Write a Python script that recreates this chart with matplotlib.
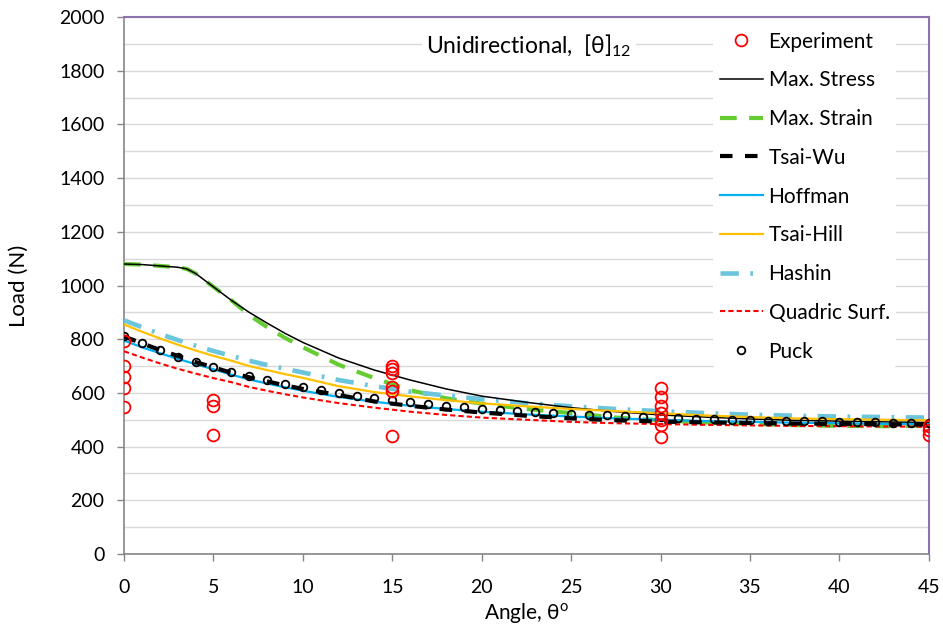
import numpy as np
import matplotlib.pyplot as plt

plt.rcParams['font.family'] = ['Lato', 'DejaVu Sans']
plt.rcParams['mathtext.fontset'] = 'custom'
plt.rcParams['mathtext.rm'] = 'Lato'

# experiment points
exp_angle = [0, 0, 0, 0, 0,
             5, 5, 5,
             15, 15, 15, 15, 15, 15,
             30, 30, 30, 30, 30, 30, 30,
             45, 45, 45]
exp_load = [795, 700, 658, 618, 549,
            575, 552, 445,
            700, 690, 675, 623, 608, 440,
            620, 585, 553, 525, 500, 480, 435,
            478, 460, 443]

# criteria curves
ang = [0, 1, 2, 3, 3.5, 4, 5, 6, 7, 8, 9, 10, 12, 14, 16, 18, 20,
       22.5, 25, 27.5, 30, 32.5, 35, 37.5, 40, 42.5, 45]
max_stress = [1080, 1078, 1073, 1068, 1062, 1045, 995, 945, 900, 860, 822, 788,
              730, 685, 648, 615, 588, 565, 545, 530, 518, 510, 503, 498, 495, 492, 490]
max_strain = [1080, 1078, 1073, 1068, 1062, 1045, 995, 945, 890, 845, 805, 770,
              705, 655, 610, 580, 560, 540, 525, 508, 498, 490, 485, 480, 477, 476, 478]
tsai_wu = [810, 785, 760, 738, 727, 715, 695, 675, 658, 643, 628, 615,
           592, 568, 552, 538, 527, 515, 505, 498, 493, 490, 488, 486, 485, 483, 482]
hoffman = [795, 770, 748, 727, 717, 707, 688, 668, 650, 635, 621, 608,
           585, 567, 552, 540, 530, 520, 512, 505, 500, 495, 492, 489, 487, 485, 484]
tsai_hill = [855, 828, 803, 780, 769, 758, 738, 720, 700, 685, 670, 656,
             625, 603, 587, 573, 561, 550, 540, 532, 524, 516, 510, 505, 502, 500, 498]
hashin = [870, 845, 820, 797, 786, 776, 756, 738, 720, 704, 690, 676,
          648, 625, 605, 590, 577, 562, 550, 540, 532, 525, 519, 515, 512, 510, 508]
quadric = [755, 732, 710, 690, 681, 672, 655, 640, 622, 608, 595, 583,
           562, 545, 530, 518, 508, 500, 492, 487, 484, 481, 479, 477, 476, 475, 474]

# Puck, every degree
puck_angle = list(range(0, 46))
puck = [812, 784, 760, 735, 714, 698, 679, 664, 648, 633, 623, 611, 601, 589,
        580, 574, 567, 559, 551, 546, 541, 536, 534, 530, 526, 521, 519, 518,
        514, 511, 509, 505, 503, 502, 499, 499, 496, 496, 494, 494, 492, 492,
        492, 489, 489, 489]

fig = plt.figure(figsize=(9.43, 6.37), dpi=100)
ax = fig.add_axes([0.1315, 0.1303, 0.8535, 0.843])

ax.plot(exp_angle, exp_load, 'o', ls='none', mfc='none', mec='#ff0000', mew=1.3,
        ms=8.5, label='Experiment', zorder=10)
ax.plot(ang, max_stress, color='black', lw=1.1, label='Max. Stress', zorder=4)
ax.plot(ang, max_strain, color='#66cc33', lw=3, dashes=(4, 3), label='Max. Strain', zorder=3)
ax.plot(ang, tsai_wu, color='black', lw=3, dashes=(3, 3), label='Tsai-Wu', zorder=5)
ax.plot(ang, hoffman, color='#00b0f0', lw=1.6, label='Hoffman', zorder=4)
ax.plot(ang, tsai_hill, color='#ffc000', lw=1.6, label='Tsai-Hill', zorder=4)
ax.plot(ang, hashin, color='#6ac5dd', lw=3.3, dashes=(4, 2.5, 0.6, 2.5), label='Hashin', zorder=3)
ax.plot(ang, quadric, color='#ff0000', lw=1.5, dashes=(2.5, 1.5), label='Quadric Surf.', zorder=4)
ax.plot(puck_angle, puck, 'o', ls='none', mfc='none', mec='black', mew=1.3, ms=5.5,
        label='Puck', zorder=9)

ax.set_xlim(0, 45)
ax.set_ylim(0, 2000)
ax.set_xticks(range(0, 46, 5))
ax.set_yticks(range(0, 2001, 200))
ax.set_yticks(range(0, 2001, 100), minor=True)
ax.tick_params(axis='y', which='minor', length=0)
ax.tick_params(axis='both', which='major', direction='out', length=5, color='#868686',
               labelsize=14, width=1)
ax.tick_params(axis='x', pad=13)
ax.tick_params(axis='y', pad=9)
ax.grid(True, which='both', axis='y', color='#d9d9d9', lw=1)
ax.set_axisbelow(True)

for s in ['left', 'bottom']:
    ax.spines[s].set_color('#868686')
    ax.spines[s].set_linewidth(1.2)
for s in ['top', 'right']:
    ax.spines[s].set_color('#8e72b0')
    ax.spines[s].set_linewidth(1.5)

ax.set_xlabel(r'Angle, θ$^{\mathrm{o}}$', fontsize=15)
ax.set_ylabel('Load (N)', fontsize=16)
ax.xaxis.set_label_coords(0.5, -0.088)
ax.yaxis.set_label_coords(-0.118, 0.5)

ax.text(0.503, 0.947, r'Unidirectional,  [θ]$_{\mathrm{12}}$', transform=ax.transAxes,
        ha='center', va='center', fontsize=16.5,
        bbox=dict(facecolor='white', edgecolor='none', pad=3))

leg = ax.legend(loc='upper right', bbox_to_anchor=(0.972, 1.004), fontsize=15,
                frameon=True, facecolor='white', edgecolor='none', framealpha=1,
                handlelength=2.1, handletextpad=0.25, labelspacing=0.9, borderpad=0.3)

plt.savefig('out.png', dpi=100)
